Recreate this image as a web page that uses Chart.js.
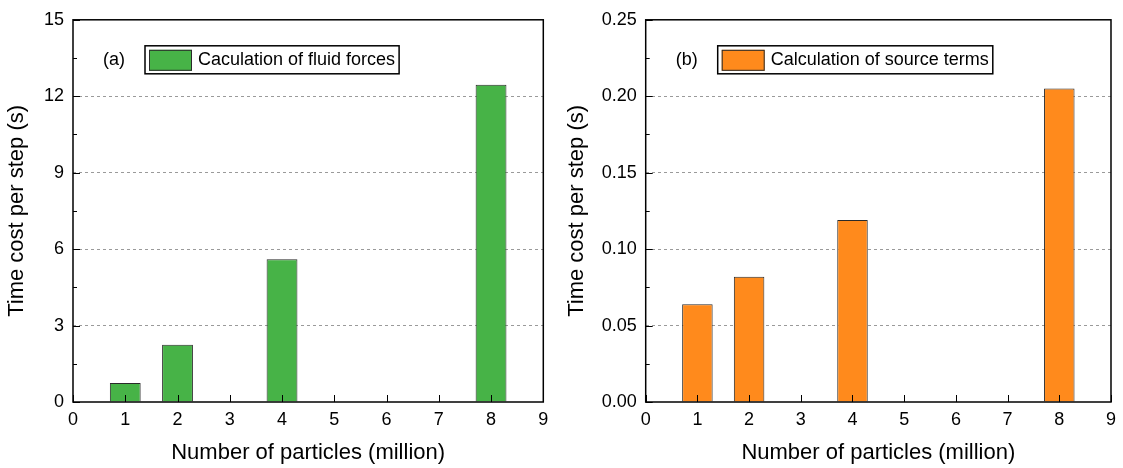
<!DOCTYPE html>
<html>
<head>
<meta charset="utf-8">
<script src="https://cdn.jsdelivr.net/npm/chart.js@4.4.1/dist/chart.umd.min.js"></script>
<style>
  body { margin: 0; background: #fff; }
  .panel { position: absolute; top: 0; height: 468px; }
</style>
</head>
<body>
<div class="panel" style="left:0;width:561px"><canvas id="chartA" width="561" height="468"></canvas></div>
<div class="panel" style="left:561px;width:562px"><canvas id="chartB" width="562" height="468"></canvas></div>
<script>
// particles in million, time per step in s
const particles = [1, 2, 4, 8];
const fluidForceTime = [0.75, 2.25, 5.6, 12.45];
const sourceTermTime = [0.064, 0.082, 0.119, 0.205];

const FONT = '"Liberation Sans", Arial, sans-serif';
Chart.defaults.font.family = FONT;
Chart.defaults.color = '#000';

// frame, inward ticks, legend box and panel tag
const framePlugin = {
  id: 'frame',
  afterDraw(chart, args, opts) {
    const { ctx, chartArea: a, scales: { x, y } } = chart;
    ctx.save();
    ctx.strokeStyle = '#000';
    ctx.lineWidth = 1;
    ctx.beginPath();
    y.ticks.forEach((t, i) => {
      const py = Math.round(y.getPixelForValue(t.value)) + 0.5;
      ctx.moveTo(a.left, py);
      ctx.lineTo(a.left + 7, py);
      if (i < y.ticks.length - 1) {
        const my = Math.round(y.getPixelForValue((t.value + y.ticks[i + 1].value) / 2)) + 0.5;
        ctx.moveTo(a.left, my);
        ctx.lineTo(a.left + 4, my);
      }
    });
    x.ticks.forEach(t => {
      const px = Math.round(x.getPixelForValue(t.value)) + 0.5;
      ctx.moveTo(px, a.bottom);
      ctx.lineTo(px, a.bottom - 7);
    });
    ctx.stroke();
    ctx.lineWidth = 1.5;
    ctx.strokeRect(a.left, a.top, a.right - a.left, a.bottom - a.top);

    const ds = chart.data.datasets[0];
    ctx.font = '18px ' + FONT;
    ctx.textBaseline = 'middle';
    ctx.fillStyle = '#000';
    ctx.fillText(opts.tag, a.left + 30, a.top + 40.5);

    const tw = ctx.measureText(ds.label).width;
    const bx = a.left + 72, by = a.top + 26;
    ctx.fillStyle = '#fff';
    ctx.fillRect(bx, by, 57 + tw, 28);
    ctx.lineWidth = 1.5;
    ctx.strokeRect(bx, by, 57 + tw, 28);
    ctx.fillStyle = ds.backgroundColor;
    ctx.fillRect(bx + 4, by + 4, 43, 21);
    ctx.lineWidth = 1;
    ctx.strokeStyle = '#2a2a2a';
    ctx.strokeRect(bx + 4.5, by + 4.5, 42, 20);
    ctx.fillStyle = '#000';
    ctx.fillText(ds.label, bx + 53, by + 14.5);
    ctx.restore();
  }
};

function makeChart(id, label, values, color, yMax, yStep, yFmt, axisWidth, padRight, tag, titlePad) {
  return new Chart(document.getElementById(id), {
    type: 'bar',
    data: {
      datasets: [{
        label: label,
        data: particles.map((p, i) => ({ x: p, y: values[i] })),
        backgroundColor: color,
        borderColor: '#2a2a2a',
        borderWidth: 1,
        barPercentage: 0.59,
        categoryPercentage: 1
      }]
    },
    options: {
      responsive: false,
      animation: false,
      layout: { padding: { left: 0, top: 16, right: padRight, bottom: 0 } },
      plugins: {
        legend: { display: false },
        tooltip: { enabled: false },
        frame: { tag: tag }
      },
      scales: {
        x: {
          type: 'linear',
          min: 0,
          max: 9,
          offset: false,
          afterFit: s => { s.height = 66; },
          ticks: { stepSize: 1, padding: 7, color: '#000', font: { size: 18 } },
          grid: { display: false, drawTicks: false, offset: false },
          border: { display: false },
          title: {
            display: true,
            text: 'Number of particles (million)',
            color: '#000',
            font: { size: 22 },
            padding: { top: 0, bottom: 2 }
          }
        },
        y: {
          min: 0,
          max: yMax,
          afterFit: s => { s.width = axisWidth; },
          ticks: { stepSize: yStep, padding: 9, color: '#000', font: { size: 18 }, callback: yFmt },
          grid: {
            drawTicks: false,
            lineWidth: 1,
            color: c => (c.tick && c.tick.value > 1e-9 && c.tick.value < yMax - 1e-9) ? '#9a9a9a' : 'rgba(0,0,0,0)'
          },
          border: { display: false, dash: [3, 3] },
          title: {
            display: true,
            text: 'Time cost per step (s)',
            color: '#000',
            font: { size: 22 },
            padding: { top: titlePad, bottom: 0 }
          }
        }
      }
    },
    plugins: [framePlugin]
  });
}

makeChart('chartA', 'Caculation of fluid forces', fluidForceTime, '#47b347',
  15, 3, v => String(v), 73, 17.7, '(a)', 4);
makeChart('chartB', 'Calculation of source terms', sourceTermTime, '#ff8a1c',
  0.25, 0.05, v => v.toFixed(2), 84.7, 6.7, '(b)', 2.5);
</script>
</body>
</html>
